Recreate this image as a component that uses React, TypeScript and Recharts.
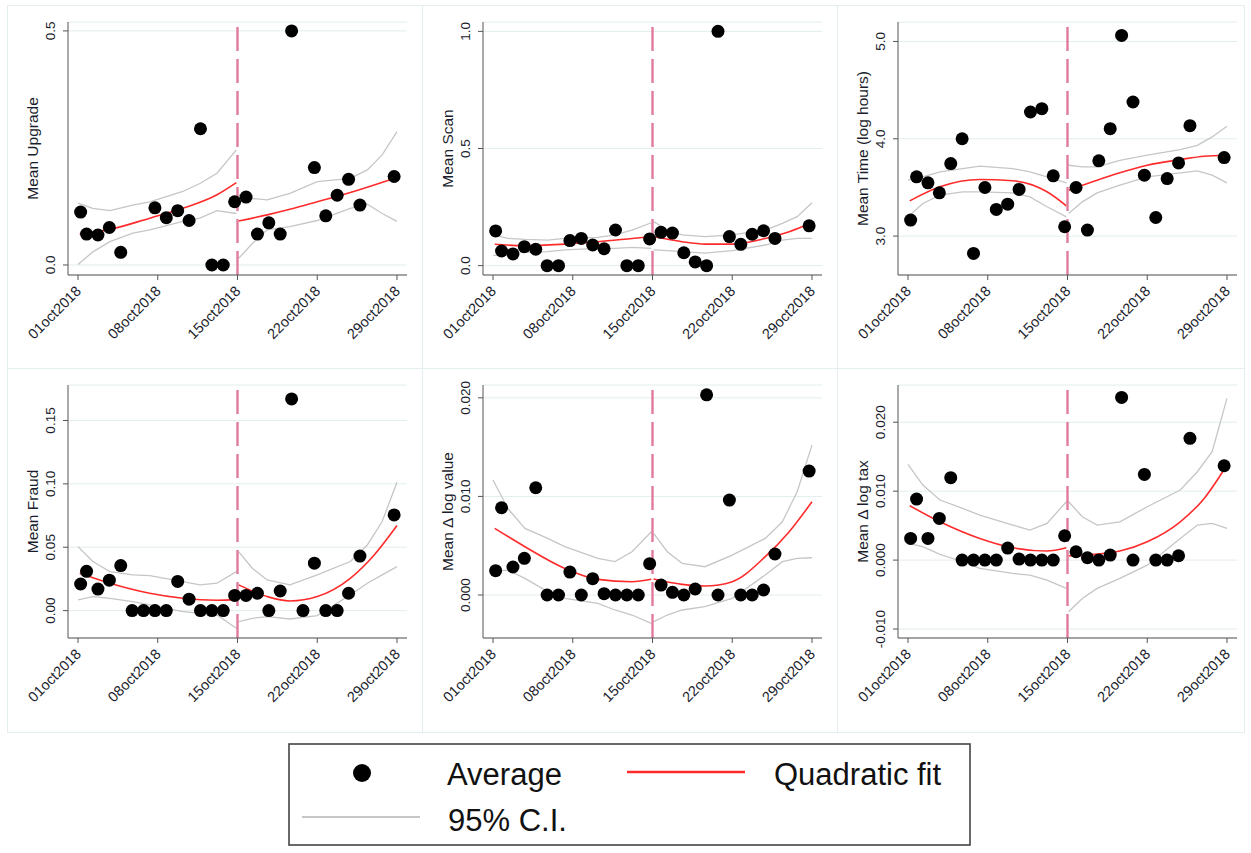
import React from 'react'
import { ComposedChart, Scatter, Line, XAxis, YAxis, CartesianGrid, ReferenceLine } from 'recharts'

const FONT = '"Liberation Sans", Arial, sans-serif'

// day number on the x axis (1 = 01oct2018)
const dotDays = [1.23, 1.75, 2.75, 3.75, 4.75, 5.75, 6.75, 7.75, 8.75, 9.75, 10.75, 11.75, 12.75, 13.75, 14.75,
  15.75, 16.75, 17.75, 18.75, 19.75, 20.75, 21.75, 22.75, 23.75, 24.75, 25.75, 26.75, 27.75, 28.75]
const fitPreDays = [1.15, 3.8, 7.3, 10.2, 13.2, 14.9]
const fitPostDays = [15.1, 17.6, 19.6, 22, 24.9, 27, 29]
const ciPreDays = [1, 2.3, 3.8, 5.8, 7.3, 10.2, 11.7, 13.2, 14.9]
const ciPostDays = [15.1, 16.3, 17.6, 19.6, 22, 24.9, 26.4, 27.7, 29]
const dateTicks = [1, 8, 15, 22, 29]
const dateLabels = ['01oct2018', '08oct2018', '15oct2018', '22oct2018', '29oct2018']

// Mean Upgrade
const upgradeAvg = [0.113, 0.066, 0.064, 0.08, 0.027, null, null, 0.122, 0.101, 0.116, 0.095, 0.291, 0, 0, 0.135,
  0.145, 0.066, 0.09, 0.066, 0.5, null, 0.208, 0.105, 0.149, 0.183, 0.128, null, null, 0.189]
const upgradeFitPre = [0.066, 0.076, 0.1, 0.121, 0.15, 0.176]
const upgradeFitPost = [0.094, 0.107, 0.119, 0.135, 0.155, 0.171, 0.187]
const upgradeCiPreHi = [0.132, 0.121, 0.116, 0.128, 0.135, 0.157, 0.174, 0.196, 0.246]
const upgradeCiPreLo = [0.001, 0.028, 0.05, 0.068, 0.075, 0.093, 0.1, 0.116, 0.11]
const upgradeCiPostHi = [0.15, 0.142, 0.139, 0.153, 0.178, 0.185, 0.203, 0.235, 0.285]
const upgradeCiPostLo = [0.014, 0.046, 0.075, 0.082, 0.095, 0.121, 0.13, 0.11, 0.093]

// Mean Scan
const scanAvg = [0.148, 0.0625, 0.05, 0.081, 0.07, 0, 0, 0.107, 0.116, 0.088, 0.072, 0.152, 0, 0, 0.114,
  0.142, 0.139, 0.055, 0.016, 0, 1.0, 0.124, 0.091, 0.134, 0.149, 0.116, null, null, 0.17]
const scanFitPre = [0.091, 0.085, 0.092, 0.102, 0.116, 0.124]
const scanFitPost = [0.124, 0.102, 0.092, 0.092, 0.116, 0.145, 0.183]
const scanCiPreHi = [0.131, 0.116, 0.112, 0.109, 0.116, 0.121, 0.131, 0.152, 0.183]
const scanCiPreLo = [0.043, 0.053, 0.057, 0.06, 0.067, 0.074, 0.074, 0.078, 0.074]
const scanCiPostHi = [0.188, 0.152, 0.131, 0.124, 0.131, 0.152, 0.18, 0.209, 0.268]
const scanCiPostLo = [0.067, 0.064, 0.06, 0.053, 0.064, 0.088, 0.109, 0.116, 0.116]

// Mean Time (log hours)
const timeAvg = [3.164, 3.609, 3.547, 3.444, 3.745, 4.0, 2.822, 3.499, 3.274, 3.328, 3.479, 4.275, 4.309, 3.619, 3.096,
  3.499, 3.062, 3.773, 4.104, 5.062, 4.378, 3.626, 3.191, 3.591, 3.752, 4.135, null, null, 3.807]
const timeFitPre = [3.362, 3.506, 3.581, 3.568, 3.455, 3.311]
const timeFitPost = [3.472, 3.574, 3.65, 3.728, 3.786, 3.821, 3.831]
const timeCiPreHi = [3.574, 3.609, 3.66, 3.694, 3.718, 3.694, 3.66, 3.609, 3.547]
const timeCiPreLo = [3.198, 3.335, 3.421, 3.455, 3.455, 3.444, 3.403, 3.301, 3.198]
const timeCiPostHi = [3.728, 3.711, 3.711, 3.779, 3.831, 3.889, 3.933, 4.019, 4.128]
const timeCiPostLo = [3.232, 3.352, 3.444, 3.523, 3.609, 3.65, 3.67, 3.626, 3.547]

// Mean Fraud
const fraudAvg = [0.021, 0.031, 0.017, 0.024, 0.0355, 0, 0, 0, 0, 0.023, 0.009, 0, 0, 0, 0.012,
  0.012, 0.0137, 0, 0.0155, 0.167, 0, 0.0374, 0, 0, 0.0137, 0.043, null, null, 0.0755]
const fraudFitPre = [0.0295, 0.0216, 0.0137, 0.0097, 0.0082, 0.0089]
const fraudFitPost = [0.0203, 0.0111, 0.0076, 0.0111, 0.0255, 0.0439, 0.0671]
const fraudCiPreHi = [0.0505, 0.0387, 0.0308, 0.0282, 0.0276, 0.0229, 0.0203, 0.0216, 0.0308]
const fraudCiPreLo = [0.0084, 0.0111, 0.0097, 0.0071, 0.0045, -0.0008, -0.0021, -0.0034, -0.0139]
const fraudCiPostHi = [0.0466, 0.0334, 0.0242, 0.0203, 0.0282, 0.0387, 0.0518, 0.0703, 0.1013]
const fraudCiPostLo = [-0.0087, -0.0061, -0.0047, -0.0066, -0.0039, 0.0124, 0.0216, 0.0282, 0.0347]

// Mean Δ log value
const valueAvg = [0.00247, 0.00885, 0.00284, 0.00372, 0.01088, 0, 0, 0.00233, 0, 0.00166, 0.00014, 0, 0, 0, 0.00318,
  0.00101, 0.00027, 0, 0.00061, 0.0203, 0, 0.00963, 0, 0, 0.00051, 0.00416, null, null, 0.01257]
const valueFitPre = [0.00676, 0.0049, 0.0027, 0.00159, 0.00135, 0.00159]
const valueFitPost = [0.00162, 0.00108, 0.00091, 0.00135, 0.00389, 0.00642, 0.00946]
const valueCiPreHi = [0.01166, 0.00878, 0.00676, 0.00574, 0.0049, 0.00372, 0.00338, 0.00439, 0.00642]
const valueCiPreLo = [0.00243, 0.00253, 0.00169, 0.00034, -0.00034, -0.00084, -0.00152, -0.00203, -0.00287]
const valueCiPostHi = [0.00625, 0.00439, 0.00321, 0.00287, 0.00405, 0.00574, 0.00743, 0.01047, 0.0152]
const valueCiPostLo = [-0.0027, -0.00203, -0.00152, -0.00118, -0.00034, 0.00203, 0.00338, 0.00372, 0.00378]

// Mean Δ log tax
const taxAvg = [0.00314, 0.00885, 0.00314, 0.00605, 0.01195, 0, 0, 0, 0, 0.00174, 0.00015, 0, 0, 0, 0.00353,
  0.00121, 0.00034, 0, 0.00073, 0.0236, 0, 0.01243, 0, 0, 0.00063, 0.01766, null, null, 0.01369]
const taxFitPre = [0.00789, 0.00556, 0.00314, 0.00179, 0.00131, 0.00179]
const taxFitPost = [0.00063, 0.00087, 0.00131, 0.00266, 0.00556, 0.00895, 0.01379]
const taxCiPreHi = [0.01389, 0.01089, 0.00871, 0.0075, 0.00653, 0.00508, 0.00435, 0.00532, 0.00847]
const taxCiPreLo = [0.00242, 0.00194, 0.00082, -0.00024, -0.00121, -0.00194, -0.00218, -0.0029, -0.00411]
const taxCiPostHi = [0.00847, 0.00629, 0.00508, 0.00556, 0.00774, 0.01016, 0.01282, 0.01572, 0.02346]
const taxCiPostLo = [-0.0075, -0.00556, -0.00411, -0.00266, -0.00073, 0.00314, 0.00508, 0.00532, 0.0046]

const toPts = (xs: number[], ys: (number | null)[]) =>
  xs.map((x, i) => ({ x, y: ys[i] })).filter(d => d.y !== null)

const panels = [
  { label: 'Mean Upgrade', domain: [-0.0214, 0.519], ticks: [0, 0.5], dec: 1,
    avg: upgradeAvg, fitPre: upgradeFitPre, fitPost: upgradeFitPost,
    ciPreHi: upgradeCiPreHi, ciPreLo: upgradeCiPreLo, ciPostHi: upgradeCiPostHi, ciPostLo: upgradeCiPostLo },
  { label: 'Mean Scan', domain: [-0.04, 1.04], ticks: [0, 0.5, 1], dec: 1,
    avg: scanAvg, fitPre: scanFitPre, fitPost: scanFitPost,
    ciPreHi: scanCiPreHi, ciPreLo: scanCiPreLo, ciPostHi: scanCiPostHi, ciPostLo: scanCiPostLo },
  { label: 'Mean Time (log hours)', domain: [2.6, 5.2], ticks: [3, 4, 5], dec: 1,
    avg: timeAvg, fitPre: timeFitPre, fitPost: timeFitPost,
    ciPreHi: timeCiPreHi, ciPreLo: timeCiPreLo, ciPostHi: timeCiPostHi, ciPostLo: timeCiPostLo },
  { label: 'Mean Fraud', domain: [-0.0216, 0.178], ticks: [0, 0.05, 0.1, 0.15], dec: 2,
    avg: fraudAvg, fitPre: fraudFitPre, fitPost: fraudFitPost,
    ciPreHi: fraudCiPreHi, ciPreLo: fraudCiPreLo, ciPostHi: fraudCiPostHi, ciPostLo: fraudCiPostLo },
  { label: 'Mean Δ log value', domain: [-0.00436, 0.0213], ticks: [0, 0.01, 0.02], dec: 3,
    avg: valueAvg, fitPre: valueFitPre, fitPost: valueFitPost,
    ciPreHi: valueCiPreHi, ciPreLo: valueCiPreLo, ciPostHi: valueCiPostHi, ciPostLo: valueCiPostLo },
  { label: 'Mean Δ log tax', domain: [-0.0113, 0.0254], ticks: [-0.01, 0, 0.01, 0.02], dec: 3,
    avg: taxAvg, fitPre: taxFitPre, fitPost: taxFitPost,
    ciPreHi: taxCiPreHi, ciPreLo: taxCiPreLo, ciPostHi: taxCiPostHi, ciPostLo: taxCiPostLo },
]

const panelLeft = [7, 422, 837]
const panelTop = [5, 368]
const W = 415
const H = 363
const TEXT = '#1b1d2c'

function DateTick({ x, y, payload }: any) {
  const tx = x + 4
  const ty = y + 10
  return (
    <text x={tx} y={ty} transform={`rotate(-45 ${tx} ${ty})`} textAnchor="end"
      fontSize={14.5} fill={TEXT} fontFamily={FONT}>
      {dateLabels[dateTicks.indexOf(payload.value)]}
    </text>
  )
}

function makeValueTick(dec: number) {
  return function ValueTick({ x, y, payload }: any) {
    return (
      <text x={x} y={y} transform={`rotate(-90 ${x} ${y})`} textAnchor="middle"
        fontSize={13.5} fill={TEXT} fontFamily={FONT}>
        {Number(payload.value).toFixed(dec)}
      </text>
    )
  }
}

const dotShape = (p: any) => <circle cx={p.cx} cy={p.cy} r={6.5} fill="#000" />

function Panel({ p }: { p: typeof panels[number] }) {
  const ciStyle = { stroke: '#c6c6c6', strokeWidth: 1.3 }
  return (
    <ComposedChart width={W} height={H} margin={{ top: 17, right: 15, bottom: 0, left: 0 }}>
      <CartesianGrid vertical={false} stroke="#e2eded" strokeWidth={1} />
      <XAxis type="number" dataKey="x" domain={[0.12, 29.88]} ticks={dateTicks} allowDataOverflow
        height={93} tickSize={5} tickMargin={2} stroke="#555" tick={<DateTick />} interval={0} />
      <YAxis type="number" domain={p.domain} ticks={p.ticks} allowDataOverflow width={61}
        tickSize={5} tickMargin={8} stroke="#555" tick={makeValueTick(p.dec)} interval={0} />
      <Scatter data={toPts(dotDays, p.avg)} dataKey="y" shape={dotShape} isAnimationActive={false} />
      <Line data={toPts(ciPreDays, p.ciPreHi)} dataKey="y" type="linear" dot={false} {...ciStyle} isAnimationActive={false} />
      <Line data={toPts(ciPreDays, p.ciPreLo)} dataKey="y" type="linear" dot={false} {...ciStyle} isAnimationActive={false} />
      <Line data={toPts(ciPostDays, p.ciPostHi)} dataKey="y" type="linear" dot={false} {...ciStyle} isAnimationActive={false} />
      <Line data={toPts(ciPostDays, p.ciPostLo)} dataKey="y" type="linear" dot={false} {...ciStyle} isAnimationActive={false} />
      <Line data={toPts(fitPreDays, p.fitPre)} dataKey="y" type="monotone" dot={false} stroke="#ff2b2b" strokeWidth={1.6} isAnimationActive={false} />
      <Line data={toPts(fitPostDays, p.fitPost)} dataKey="y" type="monotone" dot={false} stroke="#ff2b2b" strokeWidth={1.6} isAnimationActive={false} />
      <ReferenceLine x={15} stroke="#e07b9b" strokeWidth={2.4} strokeDasharray="24 8" />
    </ComposedChart>
  )
}

export default function App() {
  return (
    <div style={{ position: 'absolute', left: 0, top: 0, width: 1251, height: 853, background: '#fff', fontFamily: FONT }}>
      {panels.map((p, i) => {
        const col = i % 3
        const row = Math.floor(i / 3)
        return (
          <div key={p.label} style={{ position: 'absolute', left: panelLeft[col], top: panelTop[row], width: W, height: H }}>
            <div style={{ position: 'absolute', left: 0, top: 0, width: col === 2 ? 408 : W + 1, height: row === 0 ? H + 1 : H + 2,
              border: '1px solid #e4eef0', boxSizing: 'border-box' }} />
            <Panel p={p} />
            <svg width={W} height={H} style={{ position: 'absolute', left: 0, top: 0, pointerEvents: 'none' }}>
              <text x={31} y={143.5} transform="rotate(-90 31 143.5)" textAnchor="middle" fontSize={15.5}
                fill={TEXT} fontFamily={FONT}>{p.label}</text>
            </svg>
          </div>
        )
      })}
      <svg width={683} height={103} style={{ position: 'absolute', left: 288, top: 743 }}>
        <rect x={1} y={1} width={681} height={101} fill="#fff" stroke="#444" strokeWidth={1.6} />
        <circle cx={74} cy={30} r={9} fill="#000" />
        <text x={159} y={42} fontSize={31} fill="#111" fontFamily={FONT}>Average</text>
        <line x1={339} x2={457} y1={29} y2={29} stroke="#ff2b2b" strokeWidth={2.6} />
        <text x={486} y={42} fontSize={31} fill="#111" fontFamily={FONT}>Quadratic fit</text>
        <line x1={14} x2={132} y1={74} y2={74} stroke="#c6c6c6" strokeWidth={2.2} />
        <text x={160} y={88} fontSize={31} fill="#111" fontFamily={FONT}>95% C.I.</text>
      </svg>
    </div>
  )
}
